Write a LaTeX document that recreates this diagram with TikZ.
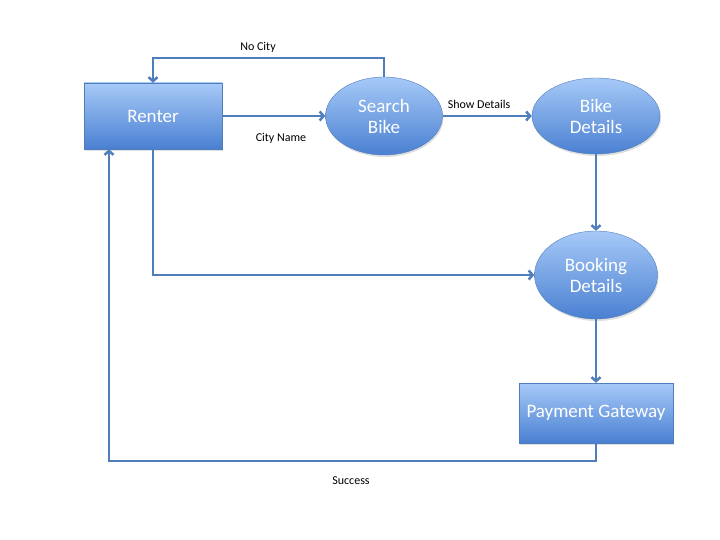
\documentclass[tikz,border=0pt]{standalone}
\usepackage{fontspec}
\setmainfont{Carlito}
\usetikzlibrary{arrows.meta, positioning, shapes.geometric, shadows}
\definecolor{boxtop}{HTML}{A6C9F7}
\definecolor{boxbot}{HTML}{4A80D2}
\definecolor{edgeblue}{HTML}{4F7EBB}

\begin{document}
\begin{tikzpicture}[x=1pt, y=-1pt, font=\fontsize{19}{21}\selectfont,
  rectbox/.style = {draw=edgeblue, thin, top color=boxtop, bottom color=boxbot, text=white, align=center,
    drop shadow={opacity=0.25, shadow xshift=1pt, shadow yshift=-2pt}},
  ellbox/.style = {ellipse, draw=edgeblue, thin, top color=boxtop, bottom color=boxbot, text=white, align=center, inner sep=0pt,
    drop shadow={opacity=0.25, shadow xshift=1pt, shadow yshift=-2pt}},
  lbl/.style = {font=\fontsize{12}{14}\selectfont},
  arrow/.style = {-{Straight Barb[length=4pt, width=9pt]}, draw=edgeblue, line width=2.5pt}
]
\useasboundingbox (0,0) rectangle (720,540);
\node[rectbox, minimum width=138pt, minimum height=66pt] (renter) at (153,116) {Renter};
\node[ellbox, minimum width=117pt, minimum height=78pt] (search) at (384,116) {Search\\Bike};
\node[ellbox, minimum width=128pt, minimum height=76pt] (bike) at (596,116) {Bike\\Details};
\node[ellbox, minimum width=123pt, minimum height=88pt] (booking) at (596,275) {Booking\\Details};
\node[rectbox, minimum width=154pt, minimum height=60pt] (payment) at (596,413) {Payment Gateway};
% labels
\node[lbl] (nocity) at (258,47) {No City};
\node[lbl] (cityname) at (281,138) {City Name};
\node[lbl] (showdet) at (479,104) {Show Details};
\node[lbl] (success) at (351,481) {Success};
% connectors
\draw[arrow] (search.north) -- ++(0,-19) -| (renter.north);
\draw[arrow] (renter) -- (search);
\draw[arrow] (search) -- (bike);
\draw[arrow] (bike) -- (booking);
\draw[arrow] (renter.south) |- (booking.west);
\draw[arrow] (booking) -- (payment);
\draw[arrow] (payment.south) -- ++(0,18) -| ([xshift=-44pt]renter.south);
\end{tikzpicture}
\end{document}
